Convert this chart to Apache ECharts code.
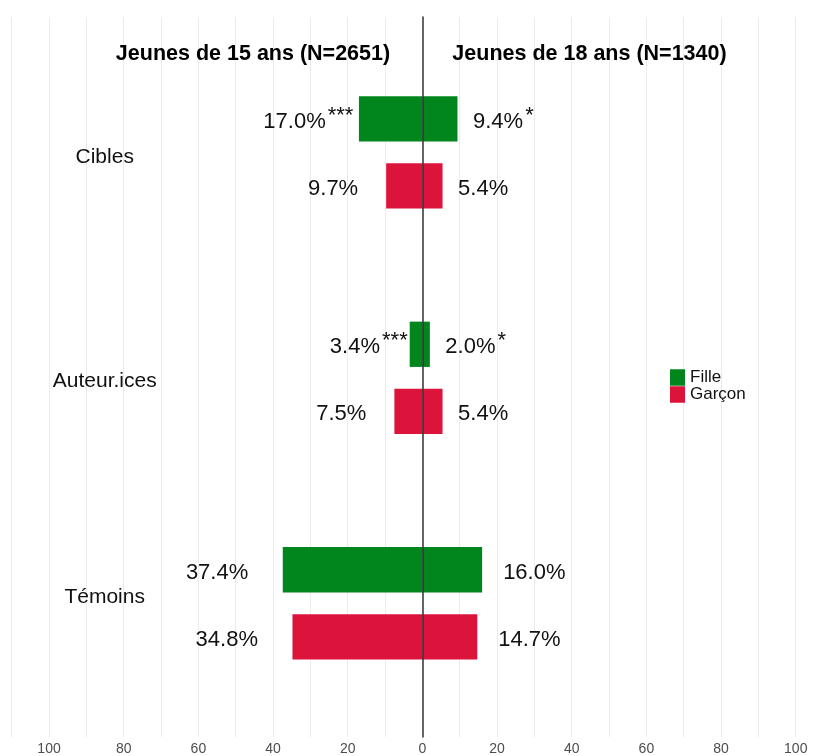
<!DOCTYPE html>
<html><head><meta charset="utf-8">
<script src="https://cdn.jsdelivr.net/npm/echarts@6/dist/echarts.min.js"></script>
<style>html,body{margin:0;padding:0;background:#fff}#c{width:823px;height:756px}</style>
</head><body><div id="c"></div>
<script>
// ---- data ----
const categories = ['Cibles', 'Auteur.ices', 'Témoins'];
const panelTitles = ['Jeunes de 15 ans (N=2651)', 'Jeunes de 18 ans (N=1340)'];
const fille15 = [17.0, 3.4, 37.4];
const garcon15 = [9.7, 7.5, 34.8];
const fille18 = [9.4, 2.0, 16.0];
const garcon18 = [5.4, 5.4, 14.7];
const sigFille15 = ['***', '***', ''];
const sigGarcon15 = ['', '', ''];
const sigFille18 = ['*', '*', ''];
const sigGarcon18 = ['', '', ''];
const xTickLabels = [-100, -80, -60, -40, -20, 0, 20, 40, 60, 80, 100];

// ---- styling ----
const FONT = 'Liberation Sans, Arial, sans-serif';
const GREEN = '#01861E';
const RED = '#DC143C';
const STAR_W = 9;

function pct(v) { return Math.abs(v).toFixed(1) + '%'; }

function buildData(vals, sigs, side) {
  return vals.map((v, i) => {
    const txt = pct(v);
    const n = sigs[i].length;
    let dist;
    if (side === 'left') {
      const gap = txt.length >= 5 ? 34.5 : 28;
      dist = n ? Math.max(2, gap - STAR_W * n - 2) : gap;
    } else {
      dist = txt.length >= 5 ? 21 : 15.5;
    }
    return {
      value: side === 'left' ? -v : v,
      sig: sigs[i],
      label: { distance: dist }
    };
  });
}

function labelCfg(side) {
  return {
    show: true,
    position: side,
    offset: [0, 3],
    fontFamily: FONT,
    formatter: p => '{v|' + pct(p.value) + '}' + (p.data.sig ? '{s|' + p.data.sig + '}' : ''),
    rich: {
      v: { fontSize: 22, fontFamily: FONT, color: '#111', lineHeight: 22, verticalAlign: 'bottom' },
      s: { fontSize: 22, fontFamily: FONT, color: '#111', lineHeight: 22, verticalAlign: 'bottom', padding: [0, 0, 6, 2] }
    }
  };
}

function barSeries(name, stack, color, vals, sigs, side) {
  return {
    type: 'bar', name: name, stack: stack,
    xAxisIndex: 1, yAxisIndex: 1,
    barWidth: 45.3, barGap: '48%',
    itemStyle: { color: color },
    label: labelCfg(side),
    data: buildData(vals, sigs, side),
    z: 2
  };
}

const XMIN = -110, XMAX = 107.3;

const chart = echarts.init(document.getElementById('c'), null, { renderer: 'canvas' });
chart.setOption({
  animation: false,
  backgroundColor: '#fff',
  textStyle: { fontFamily: FONT },
  grid: [
    { left: 11.7, right: 0, top: 17, bottom: 18, containLabel: false },
    { left: 11.7, right: 0, top: 39.6, bottom: 40, containLabel: false }
  ],
  xAxis: [
    {
      type: 'value', gridIndex: 0, min: XMIN, max: XMAX, interval: 10,
      axisLine: { show: false }, axisTick: { show: false },
      splitLine: { show: true, lineStyle: { color: '#ebebeb', width: 1 } },
      axisLabel: {
        margin: 5, fontSize: 14, color: '#4d4d4d', fontFamily: FONT,
        showMaxLabel: false,
        formatter: v => xTickLabels.indexOf(Math.round(v)) >= 0 && Math.abs(v - Math.round(v)) < 1e-6 ? String(Math.abs(Math.round(v))) : ''
      }
    },
    {
      type: 'value', gridIndex: 1, min: XMIN, max: XMAX,
      show: false
    }
  ],
  yAxis: [
    {
      type: 'value', gridIndex: 0, min: 0, max: 1, z: 10,
      axisLine: { show: true, onZero: true, lineStyle: { color: '#333', width: 1.5 } },
      axisTick: { show: false }, axisLabel: { show: false }, splitLine: { show: false }
    },
    {
      type: 'category', gridIndex: 1, data: categories, inverse: true,
      axisLine: { show: false }, axisTick: { show: false }, splitLine: { show: false },
      axisLabel: {
        inside: true, align: 'center', margin: 93,
        fontSize: 21, color: '#111', fontFamily: FONT,
        formatter: (v, i) => '{c' + i + '|' + v + '}',
        rich: {
          c0: { fontSize: 21, fontFamily: FONT, color: '#111', padding: [10, 0, 0, 0] },
          c1: { fontSize: 21, fontFamily: FONT, color: '#111', padding: [6, 0, 0, 0] },
          c2: { fontSize: 21, fontFamily: FONT, color: '#111', padding: [0, 0, 12, 0] }
        }
      }
    }
  ],
  legend: {
    data: ['Fille', 'Garçon'],
    orient: 'vertical', left: 670, top: 369, padding: 0,
    itemWidth: 15, itemHeight: 16.5, itemGap: 0, icon: 'rect',
    textStyle: { fontSize: 17, color: '#111', fontFamily: FONT, lineHeight: 17 }
  },
  graphic: [
    { type: 'text', x: 253, y: 54, z: 100, style: { text: panelTitles[0], fontSize: 21.5, fontWeight: 'bold', fontFamily: FONT, fill: '#000', align: 'center', verticalAlign: 'middle' } },
    { type: 'text', x: 589.5, y: 54, z: 100, style: { text: panelTitles[1], fontSize: 21.5, fontWeight: 'bold', fontFamily: FONT, fill: '#000', align: 'center', verticalAlign: 'middle' } }
  ],
  series: [
    barSeries('Fille', 'F', GREEN, fille15, sigFille15, 'left'),
    barSeries('Fille', 'F', GREEN, fille18, sigFille18, 'right'),
    barSeries('Garçon', 'G', RED, garcon15, sigGarcon15, 'left'),
    barSeries('Garçon', 'G', RED, garcon18, sigGarcon18, 'right')
  ]
});
</script>
</body></html>
